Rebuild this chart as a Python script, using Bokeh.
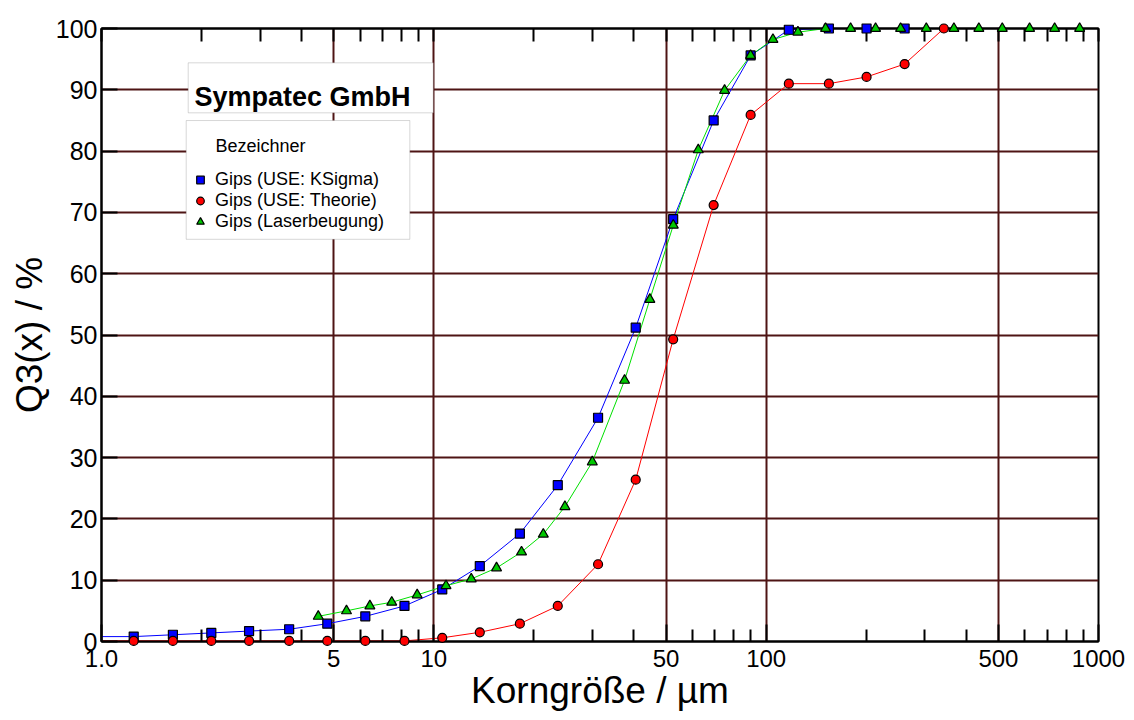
from bokeh.plotting import figure
from bokeh.models import (FixedTicker, LogAxis, CustomJSTickFormatter, Legend, LegendItem,
                          Label, BoxAnnotation, Range1d)
from bokeh.embed import file_html
from bokeh.resources import INLINE

# ---------------- data ----------------
ksigma_x = [1.25, 1.64, 2.14, 2.78, 3.67, 4.78, 6.22, 8.16, 10.6, 13.75, 18.15, 23.6,
            31.2, 40.5, 52.5, 69.5, 89.8, 117.0, 154.4, 200.5, 261.0]
ksigma_y = [0.8, 1.1, 1.4, 1.7, 2.0, 2.9, 4.1, 5.8, 8.5, 12.3, 17.6, 25.5,
            36.5, 51.2, 68.9, 85.0, 95.6, 99.8, 100.0, 100.0, 100.0]

theorie_x = [1.25, 1.64, 2.14, 2.78, 3.67, 4.78, 6.22, 8.16, 10.6, 13.75, 18.15, 23.6,
             31.2, 40.5, 52.5, 69.5, 89.8, 117.0, 154.4, 200.5, 261.0, 342.5]
theorie_y = [0.1, 0.1, 0.1, 0.1, 0.1, 0.1, 0.1, 0.1, 0.6, 1.5, 2.9, 5.8,
             12.6, 26.4, 49.3, 71.2, 85.9, 91.0, 91.0, 92.1, 94.2, 100.0]

laser_x = [4.49, 5.46, 6.42, 7.47, 8.91, 10.88, 12.96, 15.44, 18.36, 21.35, 24.8, 29.98,
           37.49, 44.67, 52.54, 62.48, 74.97, 89.76, 104.8, 124.6, 150.9, 179.5, 213.4,
           253.8, 303.3, 367.2, 436.5, 513.4, 620.3, 737.9, 877.5]
laser_y = [4.1, 5.0, 5.8, 6.4, 7.6, 9.1, 10.2, 12.0, 14.6, 17.5, 22.0, 29.3,
           42.6, 55.8, 67.9, 80.2, 89.9, 95.6, 98.2, 99.4, 100.0, 100.0, 100.0,
           100.0, 100.0, 100.0, 100.0, 100.0, 100.0, 100.0, 100.0]

# curve start values at the left axis (x = 1.0)
ksigma_curve_start = (1.0, 0.8)
theorie_curve_start = (1.0, 0.1)

series_names = ["Gips (USE: KSigma)", "Gips (USE: Theorie)", "Gips (Laserbeugung)"]

x_major = [1, 5, 10, 50, 100, 500, 1000]
x_minor = [2, 3, 4, 6, 7, 8, 9, 20, 30, 40, 60, 70, 80, 90, 200, 300, 400, 600, 700, 800, 900]
x_grid = [5, 10, 50, 100, 500]
y_major = [0, 10, 20, 30, 40, 50, 60, 70, 80, 90, 100]
y_grid = [10, 20, 30, 40, 50, 60, 70, 80, 90]

FONT = "Liberation Sans"
GRID = "#4e1414"

# ---------------- figure ----------------
p = figure(width=1134, height=720, x_axis_type="log",
           x_range=Range1d(1, 1000), y_range=Range1d(0, 100),
           output_backend="svg", toolbar_location=None,
           min_border_left=101, min_border_right=36, min_border_top=28, min_border_bottom=79)
p.background_fill_color = "white"
p.border_fill_color = "white"
p.outline_line_color = "black"
p.outline_line_width = 2

xb = p.below[0]
yl = p.left[0]

xticker = FixedTicker(ticks=x_major, minor_ticks=x_minor)
xb.ticker = xticker
xb.formatter = CustomJSTickFormatter(code="return tick == 1 ? '1.0' : String(Math.round(tick));")
xb.major_tick_in = 17
xb.major_tick_out = 0
xb.minor_tick_in = 12
xb.minor_tick_out = 0
xb.axis_line_width = 2
xb.major_tick_line_width = 2
xb.minor_tick_line_width = 2
xb.major_tick_line_color = "black"
xb.minor_tick_line_color = "black"
xb.major_label_text_font = FONT
xb.major_label_text_font_size = "24px"
xb.major_label_text_color = "black"
xb.major_label_standoff = 8
xb.axis_label = "Korngröße / µm"
xb.axis_label_text_font = FONT
xb.axis_label_text_font_size = "37px"
xb.axis_label_text_font_style = "normal"
xb.axis_label_text_color = "black"
xb.axis_label_standoff = 0

yl.ticker = FixedTicker(ticks=y_major, minor_ticks=[])
yl.major_tick_in = 16
yl.major_tick_out = 0
yl.minor_tick_in = 0
yl.minor_tick_out = 0
yl.axis_line_width = 2
yl.major_tick_line_width = 2
yl.major_tick_line_color = "black"
yl.major_label_text_font = FONT
yl.major_label_text_font_size = "25px"
yl.major_label_text_color = "black"
yl.major_label_standoff = 4
yl.axis_label = "Q3(x) / %"
yl.axis_label_text_font = FONT
yl.axis_label_text_font_size = "37px"
yl.axis_label_text_font_style = "normal"
yl.axis_label_text_color = "black"
yl.axis_label_standoff = 3

# top border: only tick marks, no labels (all ticks given as minor ticks)
top_ticker = FixedTicker(ticks=[], minor_ticks=x_major + x_minor)
top = LogAxis(ticker=top_ticker,
              major_tick_in=0, major_tick_out=0, minor_tick_in=13, minor_tick_out=0,
              axis_line_width=2, minor_tick_line_width=2, minor_tick_line_color="black",
              major_label_standoff=0)
p.add_layout(top, "above")

p.xgrid.ticker = FixedTicker(ticks=x_grid)
p.ygrid.ticker = FixedTicker(ticks=y_grid)
p.xgrid.grid_line_color = GRID
p.ygrid.grid_line_color = GRID
p.xgrid.grid_line_width = 2
p.ygrid.grid_line_width = 2

# ---------------- curves ----------------
p.line([ksigma_curve_start[0]] + ksigma_x[:19], [ksigma_curve_start[1]] + ksigma_y[:19],
       line_color="#0000ff", line_width=1)
p.line([theorie_curve_start[0]] + theorie_x, [theorie_curve_start[1]] + theorie_y,
       line_color="#ff0000", line_width=1)
p.line(laser_x[:21], laser_y[:21], line_color="#00e000", line_width=1)

r_k = p.scatter(ksigma_x, ksigma_y, marker="square", size=9, fill_color="#0000ff",
                line_color="black", line_width=1.2, level="overlay")
r_t = p.scatter(theorie_x, theorie_y, marker="circle", size=9, fill_color="#ff0000",
                line_color="black", line_width=1.2, level="overlay")
r_l = p.scatter(laser_x, laser_y, marker="triangle", size=10, fill_color="#00c800",
                line_color="black", line_width=1.2, level="overlay")


# ---------------- boxes / legend ----------------
def px2x(px):
    return 10 ** ((px - 101) / 332.3)


def py2y(py):
    return (640.7 - py) / 6.127


box1 = BoxAnnotation(left=px2x(187.7), right=px2x(432.7), top=py2y(62.3), bottom=py2y(112.3),
                     fill_color="white", fill_alpha=1, line_color="#7a7a7a", line_width=1)
box2 = BoxAnnotation(left=px2x(185.7), right=px2x(409.3), top=py2y(120), bottom=py2y(238.7),
                     fill_color="white", fill_alpha=1, line_color="#7a7a7a", line_width=1)
p.add_layout(box1)
p.add_layout(box2)

p.add_layout(Label(x=px2x(194), y=py2y(96.7), text="Sympatec GmbH", text_font=FONT,
                   text_font_size="27px", text_font_style="bold", text_color="black",
                   text_align="left", text_baseline="alphabetic"))
p.add_layout(Label(x=px2x(215), y=py2y(145), text="Bezeichner", text_font=FONT,
                   text_font_size="18px", text_color="black",
                   text_align="left", text_baseline="alphabetic"))

legend = Legend(items=[LegendItem(label=series_names[0], renderers=[r_k]),
                       LegendItem(label=series_names[1], renderers=[r_t]),
                       LegendItem(label=series_names[2], renderers=[r_l])],
                location=(89, 409), padding=0, spacing=0, margin=0,
                glyph_width=20, glyph_height=19, label_height=19, label_standoff=5,
                label_text_font=FONT, label_text_font_size="18px", label_text_color="black",
                border_line_alpha=0, background_fill_alpha=0)
p.add_layout(legend)

open("out.html", "w").write(file_html(p, INLINE))
